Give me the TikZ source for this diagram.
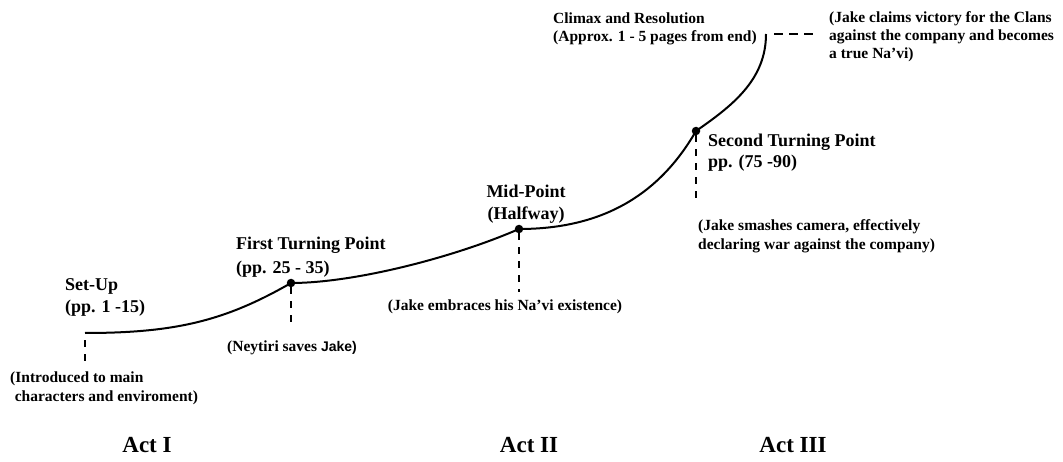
\documentclass[tikz,border=0pt]{standalone}
\usepackage{fontspec}
\setmainfont{Liberation Serif}
\newfontfamily\sansbold{Liberation Sans}
\begin{document}
\begin{tikzpicture}[x=1pt,y=1pt,
  plot/.style={line width=2pt, black},
  dashln/.style={line width=2pt, dash pattern=on 7pt off 7pt},
  hdash/.style={line width=2pt, dash pattern=on 9pt off 6pt},
  dot/.style={circle, fill=black, inner sep=0pt, minimum size=8.5pt},
  head/.style={font=\fontsize{18}{22}\selectfont\bfseries, inner sep=0pt, align=left},
  note/.style={font=\fontsize{15.5}{19}\selectfont\bfseries, inner sep=0pt, align=left},
  act/.style={font=\fontsize{23}{26}\selectfont\bfseries, inner sep=0pt}]
\useasboundingbox (0,0) rectangle (1063,461);
% key points
\coordinate (s0) at (85,128);
\node[dot] (d1) at (291,178) {};
\node[dot] (d2) at (519,232) {};
\node[dot] (d3) at (696,330) {};
\coordinate (top) at (766,427);
% curve
\draw[plot] (s0) .. controls (175,128) and (225,140) .. (d1.center)
  .. controls (355,178) and (455,204) .. (d2.center)
  .. controls (600,232) and (658,264) .. (d3.center)
  .. controls (732,355) and (766,381) .. (top);
% dashed leaders
\coordinate (s0a) at (85,121);
\coordinate (s0b) at (85,98);
\draw[dashln] (s0a) -- (s0b);
\coordinate (d1b) at (291,134);
\draw[dashln] (d1.south) -- (d1b);
\coordinate (d2b) at (519,169);
\draw[dashln] (d2.south) -- (d2b);
\coordinate (d3b) at (696,258);
\draw[dashln] (d3.south) -- (d3b);
\coordinate (ta) at (774,427);
\coordinate (tb) at (813,427);
\draw[hdash] (ta) -- (tb);
% headings
\node[head, anchor=west] (setup) at (65,164) {Set-Up\\(pp. 1 -15)};
\node[head, anchor=west, font=\fontsize{18}{24}\selectfont\bfseries] (ftp) at (236,204) {First Turning Point\\(pp. 25 - 35)};
\node[head, align=center] (mid) at (526,257) {Mid-Point\\(Halfway)};
\node[head, anchor=west, font=\fontsize{18}{21}\selectfont\bfseries] (stp) at (708,308) {Second Turning Point\\pp. (75 -90)};
\node[note, anchor=west, font=\fontsize{15.5}{18}\selectfont\bfseries] (clim) at (553,432) {Climax and Resolution\\(Approx. 1 - 5 pages from end)};
% notes
\node[note, anchor=west] (n0) at (10,73) {(Introduced to main\\\hspace*{0.3em}characters and enviroment)};
\node[note] (n1) at (292,113) {(Neytiri saves {\sansbold\fontsize{14}{17}\selectfont Jake)}};
\node[note] (n2) at (505,154) {(Jake embraces his Na'vi existence)};
\node[note, anchor=west] (n3) at (698,224.5) {(Jake smashes camera, effectively\\declaring war against the company)};
\node[note, anchor=west, font=\fontsize{15.5}{18}\selectfont\bfseries] (n4) at (829,424) {(Jake claims victory for the Clans\\against the company and becomes\\a true Na'vi)};
% acts
\node[act] (a1) at (147,16) {Act I};
\node[act] (a2) at (529,16) {Act II};
\node[act] (a3) at (793,16) {Act III};
\end{tikzpicture}
\end{document}
